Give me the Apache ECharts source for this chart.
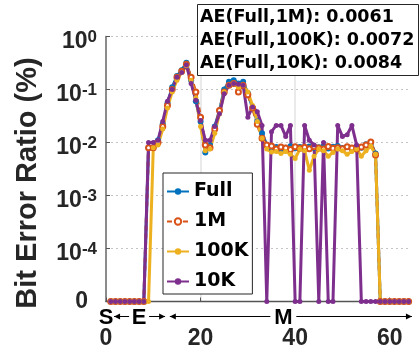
<!DOCTYPE html>
<html>
<head>
<meta charset="utf-8">
<script src="https://cdn.jsdelivr.net/npm/echarts@6/dist/echarts.min.js"></script>
<style>
  html, body { margin: 0; padding: 0; background: #fff; }
  #chart { width: 420px; height: 353px; }
</style>
</head>
<body>
<div id="chart"></div>
<script>
// 子载波序号
const subcarriers = [1, 2, 3, 4, 5, 6, 7, 8, 9, 10, 11, 12, 13, 14, 15, 16,
  17, 18, 19, 20, 21, 22, 23, 24, 25, 26, 27, 28, 29, 30, 31, 32,
  33, 34, 35, 36, 37, 38, 39, 40, 41, 42, 43, 44, 45, 46, 47, 48,
  49, 50, 51, 52, 53, 54, 55, 56, 57, 58, 59, 60, 61, 62, 63, 64]

// 各配置的误码率 (%)，0 表示无误码
const fullBer = [0, 0, 0, 0, 0, 0, 0, 0,
  0.008, 0.008, 0.011, 0.022, 0.055, 0.11, 0.18, 0.23, 0.32, 0.15, 0.06, 0.025,
  0.0065, 0.009, 0.02, 0.04, 0.1, 0.14, 0.15, 0.13, 0.14, 0.085, 0.045, 0.025,
  0.015, 0.009, 0.0078, 0.0082, 0.0075, 0.008, 0.0085, 0.0078, 0.0082, 0.0076,
  0.0084, 0.0079, 0.0081, 0.0085, 0.0077, 0.0083, 0.0086, 0.0079, 0.0082, 0.0077,
  0.0084, 0.008, 0.0093, 0.0098, 0.0062,
  0, 0, 0, 0, 0, 0, 0]
const ber1M = [0, 0, 0, 0, 0, 0, 0, 0,
  0.008, 0.008, 0.01, 0.02, 0.05, 0.1, 0.17, 0.22, 0.3, 0.17, 0.09, 0.03,
  0.009, 0.008, 0.018, 0.04, 0.09, 0.12, 0.13, 0.09, 0.12, 0.08, 0.045, 0.022,
  0.012, 0.009, 0.0086, 0.0075, 0.0082, 0.0079, 0.0074, 0.0083, 0.0078, 0.0081,
  0.0076, 0.0083, 0.0079, 0.0075, 0.0084, 0.0078, 0.008, 0.0076, 0.0083, 0.0079,
  0.0075, 0.0082, 0.009, 0.0102, 0.0058,
  0, 0, 0, 0, 0, 0, 0]
const ber100K = [0, 0, 0, 0, 0, 0, 0, 0, 0,
  0.008, 0.009, 0.018, 0.045, 0.09, 0.15, 0.21, 0.28, 0.15, 0.07, 0.02,
  0.007, 0.0075, 0.015, 0.035, 0.09, 0.12, 0.13, 0.11, 0.12, 0.09, 0.05, 0.025,
  0.012, 0.0075, 0.0066, 0.0068, 0.0062, 0.0068, 0.006, 0.005, 0.0075, 0.007,
  0.003, 0.0055, 0.0075, 0.007, 0.0055, 0.0065, 0.0075, 0.007, 0.006, 0.0068,
  0.0075, 0.0055, 0.007, 0.0085, 0.006,
  0, 0, 0, 0, 0, 0, 0]
const ber10K = [0, 0, 0, 0, 0, 0, 0, 0,
  0.01, 0.01, 0.011, 0.025, 0.06, 0.1, 0.17, 0.21, 0.29, 0.13, 0.063, 0.026,
  0.011, 0.011, 0.02, 0.035, 0.083, 0.12, 0.13, 0.125, 0.12, 0.03, 0.047, 0.038,
  0.021, 0, 0.016, 0.021, 0.021, 0.013, 0.021, 0, 0, 0.021,
  0.011, 0.009, 0, 0.01, 0, 0, 0.021, 0.013, 0.014, 0.021,
  0.009,
  0, 0, 0, 0, 0, 0, 0, 0, 0, 0, 0]

const seriesNames = ['Full', '1M', '100K', '10K']
const xTicks = [0, 20, 40, 60]

// 右上角平均误差
const aeLabels = ['AE(Full,1M)', 'AE(Full,100K)', 'AE(Full,10K)']
const aeValues = ['0.0061', '0.0072', '0.0084']

// 阶段标注 S / E / M
const phaseNames = ['S', 'E', 'M']
const phaseCenters = [0, 7, 37.5]
const phaseSpans = [null, [1.7, 12.5], [13.5, 64.7]]

const zeroLevel = 1e-5   // 对数轴上 "0" 的位置
const axisFont = 'Liberation Sans, Arial, sans-serif'
const boxFont = 'DejaVu Sans, sans-serif'
const colors = ['#0072BD', '#D95319', '#EDB120', '#7E2F8E']

const chart = echarts.init(document.getElementById('chart'))

function toPlot(values) {
  return values.map((v, i) => [subcarriers[i], v > 0 ? v : zeroLevel])
}

function makeSeries(name, values, color, symbol, symbolSize, dashed) {
  return {
    name,
    type: 'line',
    data: toPlot(values),
    symbol,
    symbolSize,
    showSymbol: true,
    lineStyle: { color, width: 3, type: dashed ? [5, 3] : 'solid' },
    itemStyle: { color, borderColor: color, borderWidth: symbol === 'emptyCircle' ? 2 : 0 },
    emphasis: { disabled: true },
    animation: false
  }
}

const option = {
  backgroundColor: '#fff',
  animation: false,
  title: {
    text: aeLabels.map((l, i) => l + ': ' + aeValues[i]).join('\n'),
    left: 197,
    top: 4,
    padding: [2, 4, 1, 3],
    borderColor: '#262626',
    borderWidth: 1,
    backgroundColor: '#fff',
    textStyle: { fontFamily: boxFont, fontWeight: 'bold', fontSize: 17.5, lineHeight: 23, color: '#000' }
  },
  legend: {
    orient: 'vertical',
    left: 163,
    top: 173,
    itemWidth: 22,
    itemHeight: 8,
    itemGap: 11,
    padding: [9, 4, 3, 3],
    borderColor: '#262626',
    borderWidth: 1,
    backgroundColor: '#fff',
    textStyle: { fontFamily: boxFont, fontWeight: 'bold', fontSize: 19, color: '#000' },
    data: seriesNames
  },
  grid: { left: 106, right: 9, top: 36.5, bottom: 51.5, containLabel: false },
  xAxis: {
    type: 'value',
    min: 0,
    max: 64.5,
    interval: 20,
    axisLine: { lineStyle: { color: '#555', width: 1.3 } },
    axisTick: { inside: true, length: 4, customValues: xTicks, lineStyle: { color: '#555' } },
    axisLabel: {
      customValues: xTicks,
      fontFamily: axisFont, fontWeight: 'bold', fontSize: 23, color: '#262626', margin: 26
    },
    splitLine: {
      show: true, showMinLine: false, showMaxLine: false,
      lineStyle: { color: '#e3e3e3', width: 1.5 }
    }
  },
  yAxis: {
    type: 'log',
    logBase: 10,
    min: zeroLevel,
    max: 1,
    name: 'Bit Error Ratio (%)',
    nameLocation: 'middle',
    nameGap: 64,
    nameTextStyle: {
      fontFamily: axisFont, fontWeight: 'bold', fontSize: 29, color: '#262626',
      padding: [0, 28, 0, 0]
    },
    axisLine: { show: true, lineStyle: { color: '#666', width: 1.5 } },
    axisTick: { show: true, inside: true, length: 4, lineStyle: { color: '#555' } },
    axisLabel: {
      margin: 9,
      fontFamily: axisFont,
      color: '#262626',
      formatter: v => {
        if (v <= zeroLevel * 1.5) return '{zero|0}'
        const e = Math.round(Math.log10(v))
        return '{base|10}{sup|' + e + '}'
      },
      rich: {
        base: { fontFamily: axisFont, fontWeight: 'bold', fontSize: 23, color: '#262626', lineHeight: 24, padding: [10, 0, 0, 0] },
        sup: { fontFamily: axisFont, fontWeight: 'bold', fontSize: 17, color: '#262626', lineHeight: 17, verticalAlign: 'top', padding: [4, 0, 0, 0] },
        zero: { fontFamily: axisFont, fontWeight: 'bold', fontSize: 23, color: '#262626', padding: [0, 9, 0, 0] }
      }
    },
    splitLine: {
      show: true, showMinLine: false,
      lineStyle: { color: '#c4c4c4', width: 1, type: [2, 3] }
    }
  },
  series: [
    makeSeries(seriesNames[0], fullBer, colors[0], 'circle', 6, false),
    makeSeries(seriesNames[1], ber1M, colors[1], 'emptyCircle', 5, true),
    makeSeries(seriesNames[2], ber100K, colors[2], 'circle', 5, false),
    makeSeries(seriesNames[3], ber10K, colors[3], 'circle', 5, false)
  ]
}

chart.setOption(option)

// 坐标轴下方的阶段标注
function buildPhaseGraphics() {
  const y = chart.convertToPixel({ yAxisIndex: 0 }, zeroLevel) + 15
  const px = v => chart.convertToPixel({ xAxisIndex: 0 }, v)
  const els = []
  const halfText = { S: 8, E: 8, M: 11 }
  const head = (x, dir) => ({
    type: 'polygon',
    shape: { points: [[x, y], [x - dir * 6, y - 3], [x - dir * 6, y + 3]] },
    style: { fill: '#000' }
  })
  phaseNames.forEach((name, i) => {
    const cx = px(phaseCenters[i])
    els.push({
      type: 'text', x: cx, y: y + 1,
      style: { text: name, align: 'center', verticalAlign: 'middle', font: 'bold 22px ' + axisFont, fill: '#000' },
      z: 10
    })
    const span = phaseSpans[i]
    if (!span) return
    const x1 = px(span[0])
    const x2 = px(span[1])
    const gap = halfText[name] + 2
    els.push({ type: 'line', shape: { x1: x1, y1: y, x2: cx - gap, y2: y }, style: { stroke: '#000', lineWidth: 1 } })
    els.push({ type: 'line', shape: { x1: cx + gap, y1: y, x2: x2, y2: y }, style: { stroke: '#000', lineWidth: 1 } })
    els.push(head(x1, -1))
    els.push(head(x2, 1))
  })
  chart.setOption({ graphic: els })
}

buildPhaseGraphics()
</script>
</body>
</html>
